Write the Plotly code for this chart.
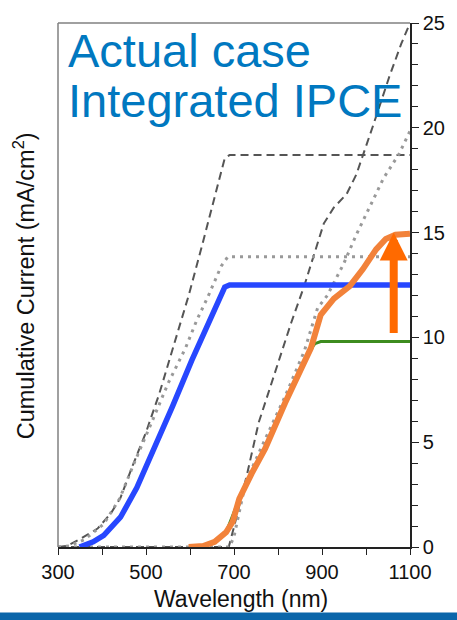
import plotly.graph_objects as go

# ---------------- data ----------------
# left group (upper curves, short-wavelength cell)
dash_left_x = [300, 320, 352, 390, 420, 442, 470, 500, 530, 553, 575, 597, 627, 655, 679, 690, 1100]
dash_left_y = [0, 0.05, 0.4, 0.88, 1.6, 2.35, 3.9, 5.47, 7.3, 8.9, 10.4, 12.0, 14.35, 16.6, 18.55, 18.7, 18.7]

dot_left_x = [300, 325, 360, 404, 440, 471, 516, 550, 590, 615, 642, 671, 686, 1100]
dot_left_y = [0, 0.05, 0.35, 1.1, 2.3, 3.9, 6.1, 7.8, 9.5, 10.8, 12.0, 13.4, 13.85, 13.85]

blue_x = [349, 380, 404, 442, 479, 516, 560, 604, 642, 679, 690, 1100]
blue_y = [0, 0.25, 0.56, 1.42, 2.82, 4.53, 6.7, 8.9, 10.6, 12.4, 12.5, 12.5]

# right group (long-wavelength cell)
dash_right_x = [300, 688, 700, 730, 756, 801, 830, 860, 885, 904, 927, 956, 978, 1000, 1016, 1053, 1080, 1100]
dash_right_y = [0, 0, 0.95, 3.5, 5.93, 8.9, 10.7, 12.48, 14.2, 15.43, 16.2, 16.84, 17.77, 19.1, 20.1, 22.44, 24.0, 25.0]

dot_right_x = [300, 690, 700, 727, 771, 816, 860, 890, 912, 949, 978, 1008, 1040, 1075, 1100]
dot_right_y = [0, 0, 0.5, 3.13, 5.15, 7.18, 9.36, 11.4, 12.0, 13.5, 14.9, 16.2, 17.6, 18.75, 19.85]

green_x = [600, 630, 656, 682, 712, 771, 816, 845, 875, 884, 897, 1100]
green_y = [0, 0.05, 0.25, 0.7, 2.3, 4.7, 6.87, 8.1, 9.45, 9.7, 9.8, 9.8]

orange_x = [597, 630, 656, 670, 682, 697, 712, 740, 771, 816, 845, 875, 897, 927, 963, 993, 1023, 1045, 1067, 1100]
orange_y = [0, 0.05, 0.25, 0.45, 0.7, 1.2, 2.3, 3.5, 4.7, 6.87, 8.1, 9.5, 11.07, 11.85, 12.45, 13.26, 14.2, 14.7, 14.9, 14.95]

arrow_x = 1063
arrow_tail = 10.14
arrow_head = 15.0

x_ticks = [300, 500, 700, 900, 1100]
y_ticks = [0, 5, 10, 15, 20, 25]

# ---------------- figure ----------------
fig = go.Figure()

fig.add_trace(go.Scatter(x=dash_left_x, y=dash_left_y, mode="lines",
                         line=dict(color="#555555", width=2, dash="8px,5px")))
fig.add_trace(go.Scatter(x=dash_right_x, y=dash_right_y, mode="lines",
                         line=dict(color="#555555", width=2, dash="8px,5px")))
fig.add_trace(go.Scatter(x=dot_left_x, y=dot_left_y, mode="lines",
                         line=dict(color="#999999", width=3, dash="3px,5px")))
fig.add_trace(go.Scatter(x=dot_right_x, y=dot_right_y, mode="lines",
                         line=dict(color="#999999", width=3, dash="3px,5px")))
fig.add_trace(go.Scatter(x=blue_x, y=blue_y, mode="lines",
                         line=dict(color="#2747ff", width=5.5)))
fig.add_trace(go.Scatter(x=green_x, y=green_y, mode="lines",
                         line=dict(color="#3d8c1f", width=3)))
fig.add_trace(go.Scatter(x=orange_x, y=orange_y, mode="lines",
                         line=dict(color="#f2823a", width=6)))

fig.update_layout(
    width=457, height=620, autosize=False,
    margin=dict(l=58, r=39, t=12, b=73),
    paper_bgcolor="white", plot_bgcolor="white",
    showlegend=False,
    font=dict(family="Liberation Sans, Arial, sans-serif", color="#111111"),
)

fig.update_xaxes(
    range=[300, 1100], tickvals=x_ticks, ticktext=[str(v) for v in x_ticks],
    ticks="outside", ticklen=6, tickwidth=1.2, tickcolor="#222222",
    minor=dict(dtick=100, tick0=300, ticks="outside", ticklen=6, tickcolor="#222222", tickwidth=1.2),
    showline=True, linecolor="#222222", linewidth=1.5,
    showgrid=False, zeroline=False,
    tickfont=dict(size=20, color="#111111"),
)
fig.update_yaxes(
    range=[0, 25], side="right", tickvals=y_ticks,
    ticks="outside", ticklen=7, tickwidth=1.2, tickcolor="#222222",
    minor=dict(dtick=1, tick0=0, ticks="outside", ticklen=6, tickcolor="#222222", tickwidth=1.2),
    showline=True, linecolor="#222222", linewidth=1.5,
    showgrid=False, zeroline=False,
    tickfont=dict(size=20, color="#111111"),
)

# left & top frame lines (grey)
fig.add_shape(type="line", xref="paper", yref="paper", x0=0, x1=0, y0=0, y1=1,
              line=dict(color="#808080", width=1.5))
fig.add_shape(type="line", xref="paper", yref="paper", x0=0, x1=1, y0=1, y1=1,
              line=dict(color="#808080", width=1.5))
# blue band at the bottom of the slide
fig.add_shape(type="rect", xref="paper", yref="paper", x0=-0.2, x1=1.2,
              y0=(547 - 614) / 535, y1=(547 - 625) / 535,
              line=dict(width=0), fillcolor="#0b66aa")

# texts
fig.add_annotation(text="Actual case", xref="paper", yref="paper",
                   x=(66 - 58) / 360, y=(547 - 40) / 535, xanchor="left", yanchor="middle",
                   showarrow=False, font=dict(size=47, color="#0078c0"))
fig.add_annotation(text="Integrated IPCE", xref="paper", yref="paper",
                   x=(66 - 58) / 360, y=(547 - 91) / 535, xanchor="left", yanchor="middle",
                   showarrow=False, font=dict(size=47, color="#0078c0"))
fig.add_annotation(text="Wavelength (nm)", xref="paper", yref="paper",
                   x=(245 - 58) / 360, y=(547 - 600) / 535, xanchor="center", yanchor="middle",
                   showarrow=False, font=dict(size=23, color="#111111"))
fig.add_annotation(text="Cumulative Current (mA/cm<sup>2</sup>)", xref="paper", yref="paper",
                   x=(24 - 58) / 360, y=(547 - 280) / 535, xanchor="center", yanchor="middle",
                   textangle=-90, showarrow=False, font=dict(size=23.5, color="#111111"))

# orange arrow
fig.add_annotation(x=arrow_x, y=arrow_head, ax=arrow_x, ay=arrow_tail,
                   xref="x", yref="y", axref="x", ayref="y", text="",
                   showarrow=True, arrowhead=2, arrowsize=0.7, arrowwidth=8,
                   arrowcolor="#ff6a00", standoff=0)

fig.write_html("out.html")
